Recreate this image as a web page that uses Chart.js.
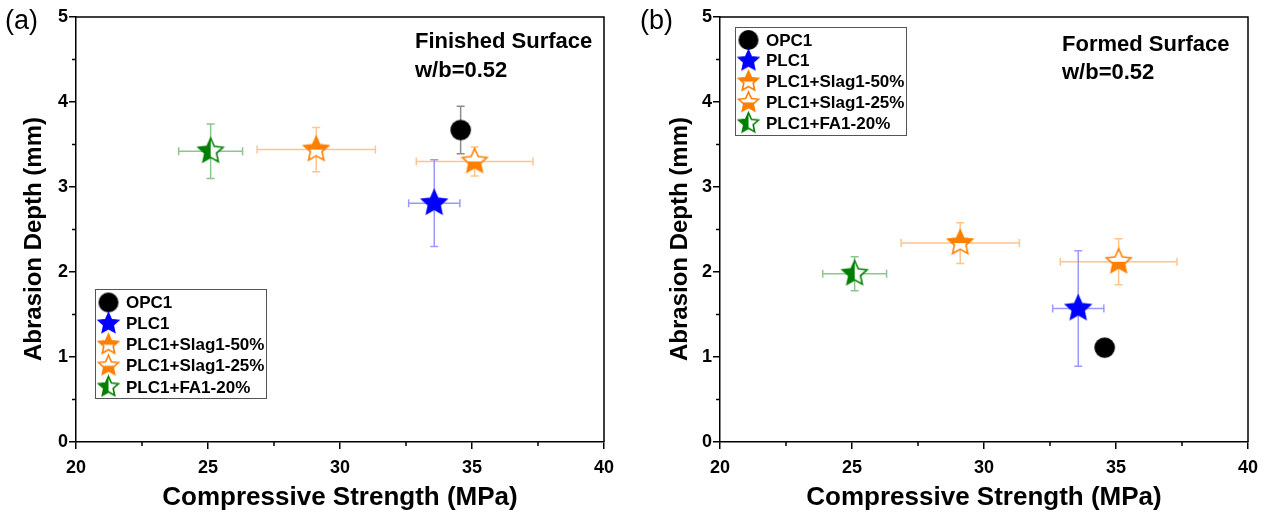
<!DOCTYPE html>
<html><head><meta charset="utf-8">
<script src="https://cdn.jsdelivr.net/npm/chart.js@4.4.1/dist/chart.umd.min.js"></script>
<style>
html,body{margin:0;padding:0;background:#fff;}
#wrap{position:relative;width:1267px;height:519px;overflow:hidden;}
canvas{position:absolute;top:0;}
</style></head><body>
<div id="wrap">
<canvas id="ca" width="634" height="519" style="left:0px"></canvas>
<canvas id="cb" width="633" height="519" style="left:634px"></canvas>
</div>
<script>
// ---------- data ----------
const categories = ['OPC1', 'PLC1', 'PLC1+Slag1-50%', 'PLC1+Slag1-25%', 'PLC1+FA1-20%'];
const strength = [34.57, 33.57, 29.1, 35.1, 25.1];
const strengthErr = [0, 0.97, 2.24, 2.21, 1.21];
const finishedDepth = [3.67, 2.81, 3.44, 3.30, 3.42];
const finishedErr = [0.28, 0.51, 0.26, 0.17, 0.32];
const formedDepth = [1.11, 1.57, 2.34, 2.12, 1.98];
const formedErr = [0, 0.68, 0.24, 0.27, 0.20];
const xTicks = [20, 25, 30, 35, 40];
const yTicks = [0, 1, 2, 3, 4, 5];

// ---------- styles ----------
const colors = ['#000000', '#0000ff', '#ff7f00', '#ff7f00', '#008000'];
const errColors = ['rgba(0,0,0,0.45)', 'rgba(0,0,255,0.4)', 'rgba(255,127,0,0.45)', 'rgba(255,127,0,0.45)', 'rgba(0,128,0,0.45)'];
const kinds = ['circle', 'full', 'top', 'bottom', 'left'];
const FONT = '"Liberation Sans", Arial, sans-serif';

function starPath(g, cx, cy, R, r) {
  g.beginPath();
  for (let i = 0; i < 10; i++) {
    const a = -Math.PI / 2 + i * Math.PI / 5;
    const rad = i % 2 === 0 ? R : r;
    g.lineTo(cx + rad * Math.cos(a), cy + rad * Math.sin(a));
  }
  g.closePath();
}
function makeMarker(kind, color, R) {
  const s = Math.ceil(2 * R + 4);
  const c = document.createElement('canvas');
  c.width = s; c.height = s;
  const g = c.getContext('2d');
  const cx = s / 2, cy = s / 2;
  if (kind === 'circle') {
    g.beginPath(); g.arc(cx, cy, R, 0, 2 * Math.PI); g.fillStyle = color; g.fill();
    return c;
  }
  const r = R * 0.47;
  starPath(g, cx, cy, R, r);
  g.fillStyle = '#fff'; g.fill();
  g.save();
  starPath(g, cx, cy, R, r); g.clip();
  g.fillStyle = color;
  if (kind === 'full') g.fillRect(0, 0, s, s);
  if (kind === 'top') g.fillRect(0, 0, s, cy);
  if (kind === 'bottom') g.fillRect(0, cy, s, s);
  if (kind === 'left') g.fillRect(0, 0, cx, s);
  g.restore();
  starPath(g, cx, cy, R, r);
  g.lineWidth = 1.6; g.strokeStyle = color; g.lineJoin = 'miter'; g.stroke();
  return c;
}
const plotMarkers = kinds.map((k, i) => makeMarker(k, colors[i], k === 'circle' ? 10.3 : 13));
const legendMarkers = kinds.map((k, i) => makeMarker(k, colors[i], k === 'circle' ? 10 : 10.5));

// ---------- plugins ----------
const errorBars = {
  id: 'errorBars',
  beforeDatasetsDraw(chart) {
    const { ctx } = chart; const xs = chart.scales.x, ys = chart.scales.y;
    chart.data.datasets.forEach(ds => {
      const p = ds.data[0];
      const px = xs.getPixelForValue(p.x), py = ys.getPixelForValue(p.y);
      ctx.save(); ctx.strokeStyle = ds.errColor; ctx.lineWidth = 1.5;
      const cap = 4;
      if (ds.xErr > 0) {
        const l = xs.getPixelForValue(p.x - ds.xErr), r = xs.getPixelForValue(p.x + ds.xErr);
        ctx.beginPath(); ctx.moveTo(l, py); ctx.lineTo(r, py);
        ctx.moveTo(l, py - cap); ctx.lineTo(l, py + cap);
        ctx.moveTo(r, py - cap); ctx.lineTo(r, py + cap); ctx.stroke();
      }
      if (ds.yErr > 0) {
        const t = ys.getPixelForValue(p.y + ds.yErr), b = ys.getPixelForValue(p.y - ds.yErr);
        ctx.beginPath(); ctx.moveTo(px, t); ctx.lineTo(px, b);
        ctx.moveTo(px - cap, t); ctx.lineTo(px + cap, t);
        ctx.moveTo(px - cap, b); ctx.lineTo(px + cap, b); ctx.stroke();
      }
      ctx.restore();
    });
  }
};
const frameTicks = {
  id: 'frameTicks',
  afterDraw(chart) {
    const { ctx, chartArea: a } = chart; const xs = chart.scales.x, ys = chart.scales.y;
    ctx.save(); ctx.strokeStyle = '#000'; ctx.lineWidth = 1.5;
    ctx.beginPath();
    ctx.moveTo(a.left, a.top); ctx.lineTo(a.right, a.top); ctx.lineTo(a.right, a.bottom);
    for (let i = 0; i < xTicks.length - 1; i++) {
      const v = (xTicks[i] + xTicks[i + 1]) / 2, px = xs.getPixelForValue(v);
      ctx.moveTo(px, a.bottom); ctx.lineTo(px, a.bottom + 4);
    }
    for (let i = 0; i < yTicks.length - 1; i++) {
      const v = (yTicks[i] + yTicks[i + 1]) / 2, py = ys.getPixelForValue(v);
      ctx.moveTo(a.left, py); ctx.lineTo(a.left - 4, py);
    }
    ctx.stroke(); ctx.restore();
  }
};
const boxLegend = {
  id: 'boxLegend',
  afterDraw(chart, args, o) {
    const { ctx } = chart;
    ctx.save();
    ctx.fillStyle = '#fff'; ctx.fillRect(o.left, o.top, o.width, o.height);
    ctx.strokeStyle = '#555'; ctx.lineWidth = 1; ctx.strokeRect(o.left + 0.5, o.top + 0.5, o.width, o.height);
    ctx.font = 'bold 17px ' + FONT; ctx.fillStyle = '#000'; ctx.textBaseline = 'middle'; ctx.textAlign = 'left';
    chart.data.datasets.forEach((ds, i) => {
      const y = o.firstRow + i * o.rowH;
      const m = legendMarkers[i];
      ctx.drawImage(m, o.markerX - m.width / 2, y - m.height / 2);
      ctx.fillText(ds.label, o.textX, y + 1);
    });
    ctx.restore();
  }
};
const annot = {
  id: 'annot',
  afterDraw(chart, args, o) {
    const { ctx } = chart;
    ctx.save(); ctx.fillStyle = '#000'; ctx.textBaseline = 'middle'; ctx.textAlign = 'left';
    ctx.font = '27px ' + FONT; ctx.fillText(o.panel, o.panelX, 22);
    ctx.textBaseline = 'alphabetic';
    ctx.font = 'bold 22px ' + FONT;
    o.lines.forEach((t, i) => ctx.fillText(t, o.textX, o.baselines[i]));
    // y axis title
    ctx.save();
    ctx.translate(o.yTitleX, o.yTitleY); ctx.rotate(-Math.PI / 2);
    ctx.textAlign = 'center'; ctx.textBaseline = 'middle';
    ctx.font = 'bold 24px ' + FONT;
    ctx.fillText('Abrasion Depth (mm)', 0, 0);
    ctx.restore();
    ctx.restore();
  }
};

function makeChart(id, depth, depthErr, cfg) {
  const datasets = categories.map((name, i) => ({
    label: name,
    data: [{ x: strength[i], y: depth[i] }],
    pointStyle: plotMarkers[i],
    pointRadius: 10,
    xErr: strengthErr[i], yErr: depthErr[i], errColor: errColors[i]
  }));
  return new Chart(document.getElementById(id), {
    type: 'scatter',
    data: { datasets },
    plugins: [errorBars, frameTicks, boxLegend, annot],
    options: {
      responsive: false, animation: false, events: [],
      layout: { padding: { left: 0, top: 17, right: cfg.padRight, bottom: 0 } },
      plugins: {
        legend: { display: false }, tooltip: { enabled: false },
        boxLegend: cfg.legend, annot: cfg.annot
      },
      scales: {
        x: {
          type: 'linear', min: 20, max: 40,
          afterBuildTicks: s => { s.ticks = xTicks.map(v => ({ value: v })); },
          afterFit: s => { s.height = 519 - 442; },
          grid: { display: true, drawOnChartArea: false, drawTicks: true, tickLength: 7, color: '#000', lineWidth: 1.5 },
          border: { display: true, color: '#000', width: 1.5 },
          ticks: { color: '#000', font: { family: FONT, size: 18, weight: 'bold' }, padding: 8, maxRotation: 0 },
          title: { display: true, text: 'Compressive Strength (MPa)', color: '#000', font: { family: FONT, size: 26, weight: 'bold' }, padding: { top: 0, bottom: 6 } }
        },
        y: {
          type: 'linear', min: 0, max: 5,
          afterBuildTicks: s => { s.ticks = yTicks.map(v => ({ value: v })); },
          afterFit: s => { s.width = cfg.left; },
          grid: { display: true, drawOnChartArea: false, drawTicks: true, tickLength: 7, color: '#000', lineWidth: 1.5 },
          border: { display: true, color: '#000', width: 1.5 },
          ticks: { color: '#000', font: { family: FONT, size: 18, weight: 'bold' }, padding: 1 },
          title: { display: false }
        }
      }
    }
  });
}

makeChart('ca', finishedDepth, finishedErr, {
  left: 76, padRight: 30,
  legend: { left: 95, top: 289, width: 171, height: 109, firstRow: 302.5, rowH: 21.1, markerX: 108.5, textX: 126 },
  annot: { panel: '(a)', panelX: 5, lines: ['Finished Surface', 'w/b=0.52'], textX: 415, baselines: [47.5, 76.5], yTitleX: 34, yTitleY: 239 }
});
makeChart('cb', formedDepth, formedErr, {
  left: 86, padRight: 19,
  legend: { left: 101, top: 27, width: 171, height: 108, firstRow: 40, rowH: 20.8, markerX: 114.5, textX: 132 },
  annot: { panel: '(b)', panelX: 6, lines: ['Formed Surface', 'w/b=0.52'], textX: 428, baselines: [50.5, 78.5], yTitleX: 46, yTitleY: 239 }
});
</script>
</body></html>
